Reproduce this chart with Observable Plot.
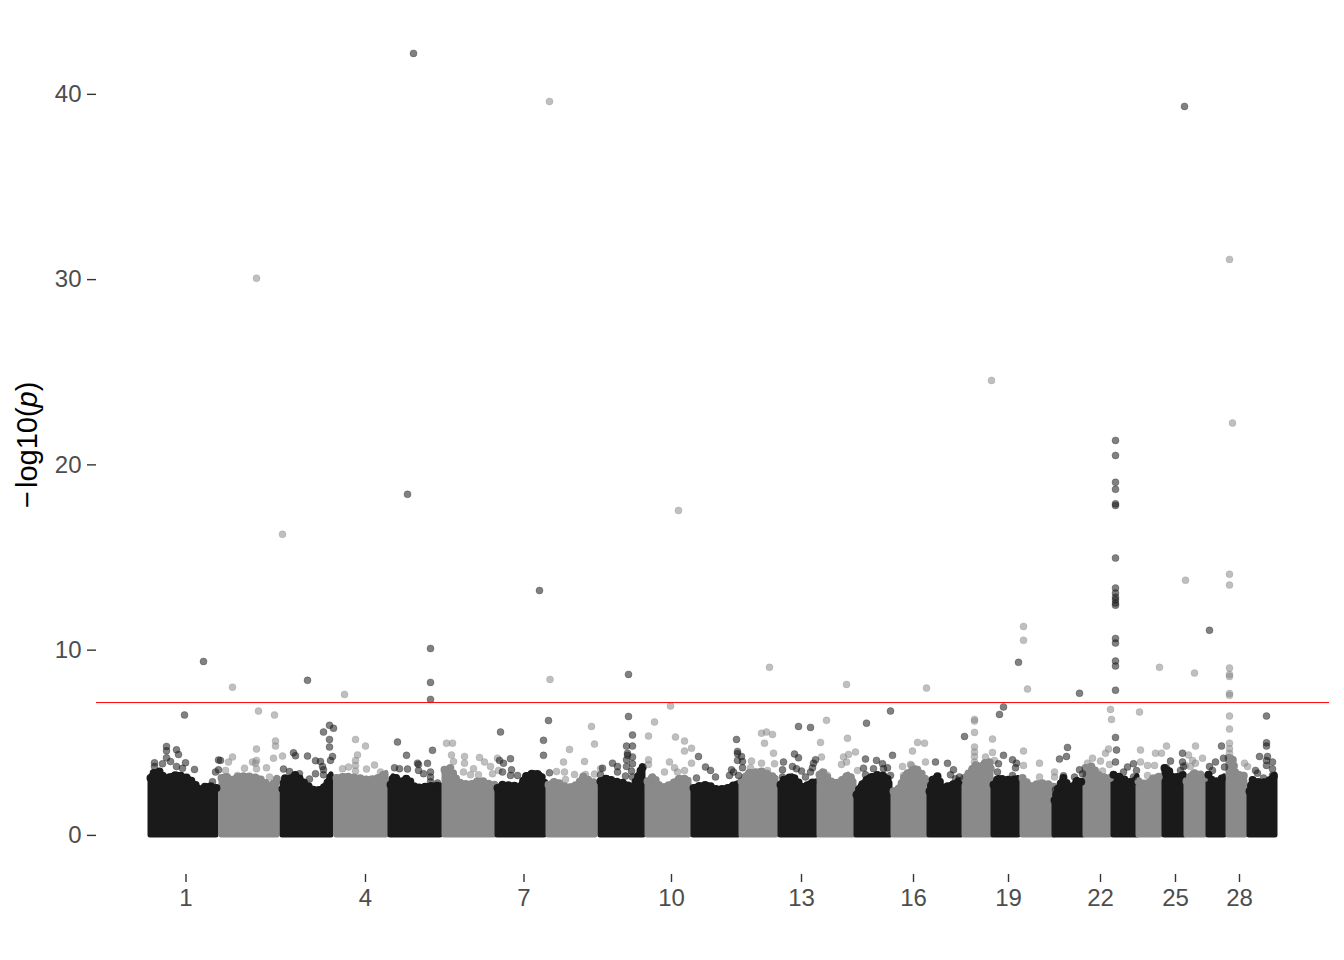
<!DOCTYPE html>
<html>
<head>
<meta charset="utf-8">
<script src="https://cdn.jsdelivr.net/npm/d3@7"></script>
<script src="https://cdn.jsdelivr.net/npm/@observablehq/plot@0.6"></script>
<style>
html,body{margin:0;padding:0;background:#fff}
svg{display:block}
</style>
</head>
<body>
<div id="chart"></div>
<script>
// Tick labels and their genome positions (arbitrary position units)
const tickPositions = [185.5, 365, 523.5, 671, 801, 913, 1008, 1100, 1175, 1239];
const tickLabels = ["1", "4", "7", "10", "13", "16", "19", "22", "25", "28"];
const yTicks = [0, 10, 20, 30, 40];
const threshold = 7.17;

// Upper outline of the dense mass of points, per chromosome: [position, -log10(p)]
const denseProfiles = [
  [[150,3.1],[153,3.37],[160,3.46],[165,2.92],[170,3.19],[177,3.28],[182,3.19],[188,3.1],[193,2.83],[200,2.47],[205,2.65],[212,2.65],[216,2.56]],
  [[221,3.1],[225,3.19],[232,3.0],[238,3.19],[248,3.19],[258,3.1],[265,2.83],[270,2.56],[277,3.1]],
  [[282,2.5],[284,3.1],[288,3.0],[295,3.28],[302,2.92],[308,2.65],[315,2.38],[323,2.56],[328,2.92],[331,3.3]],
  [[336,3.1],[345,3.19],[358,3.1],[368,3.0],[378,3.1],[386,3.37]],
  [[390,2.74],[393,3.19],[401,2.9],[407,3.1],[415,2.56],[428,2.65],[440,2.7]],
  [[444,3.55],[450,3.64],[455,3.1],[460,2.83],[470,2.74],[477,2.92],[483,2.92],[490,2.74],[494,2.74]],
  [[497,2.56],[502,2.74],[520,2.65],[525,3.19],[533,3.37],[540,3.28],[544,2.83]],
  [[548,2.74],[555,2.92],[567,2.56],[577,2.74],[583,3.19],[590,2.92],[595,2.83]],
  [[600,2.92],[607,3.1],[613,2.92],[623,2.83],[632,2.56],[637,3.1],[642,3.73],[643,3.46]],
  [[647,2.92],[653,3.19],[660,2.56],[670,2.74],[680,3.1],[689,3.0]],
  [[693,2.56],[697,2.65],[707,2.74],[717,2.47],[727,2.56],[738,2.83]],
  [[741,2.92],[748,3.37],[762,3.46],[768,3.28],[776,3.1]],
  [[780,2.74],[783,3.0],[792,3.19],[797,2.92],[803,2.56],[810,2.83],[816,2.92]],
  [[819,3.28],[822,3.46],[830,2.92],[838,2.83],[848,3.28],[854,2.92]],
  [[856,2.2],[860,2.65],[868,3.1],[878,3.28],[885,3.19],[890,2.83]],
  [[893,2.38],[899,2.56],[905,3.28],[915,3.64],[922,3.28],[927,2.83]],
  [[929,2.38],[932,3.0],[937,3.19],[942,2.56],[952,2.74],[961,3.0]],
  [[964,3.1],[970,3.46],[975,3.82],[978,3.64],[984,3.9],[989,4.0],[991,3.37]],
  [[993,2.74],[998,3.1],[1005,3.0],[1012,3.0],[1018,3.1]],
  [[1022,3.1],[1030,2.65],[1040,2.83],[1050,2.74],[1054,2.6]],
  [[1054,1.9],[1057,2.47],[1063,3.1],[1070,2.47],[1077,3.0],[1083,2.83]],
  [[1085,3.64],[1092,3.73],[1097,3.28],[1105,3.1],[1110,3.1]],
  [[1113,3.28],[1118,3.19],[1127,2.92],[1133,2.83],[1137,3.2]],
  [[1138,2.92],[1147,2.74],[1153,3.1],[1160,3.19]],
  [[1164,3.64],[1168,3.55],[1172,3.1],[1180,3.19],[1184,3.3]],
  [[1186,2.92],[1193,3.37],[1201,3.28],[1205,3.1]],
  [[1208,3.28],[1212,2.92],[1218,2.92],[1224,3.19]],
  [[1228,4.18],[1232,4.18],[1235,3.28],[1243,3.28],[1245,2.92]],
  [[1249,2.38],[1252,3.0],[1260,2.83],[1268,2.92],[1275,3.28]]
];

// Individually visible points on odd chromosomes
const oddHits = [
  [184,6.5],[166,4.8],[166,4.57],[166,4.19],[176,4.62],[178,4.37],[170,3.99],[162,3.87],[154,3.92],[154,3.72],[176,3.72],[185,3.92],[182,3.62],[194,3.56],[218,4.07],[220,4.05],[215,3.42],[212,2.9],[218,3.54],[203,9.39],
  [283,3.58],[289,3.45],[293,4.46],[295,4.3],[307,4.28],[299,3.33],[309,3.04],[315,4.03],[320,3.99],[322,3.72],[323,3.54],[315,3.33],[329,5.94],[333,5.78],[323,5.58],[329,5.18],[329,4.77],[332,4.26],[330,4.05],[323,3.27],[307,8.37],
  [397,5.04],[406,4.32],[417,3.9],[418,3.83],[427,3.89],[432,4.59],[394,3.65],[399,3.6],[407,3.58],[418,3.51],[423,3.33],[430,3.42],[430,3.15],[430,2.9],[437,2.83],[430,7.34],[430,8.26],[430,10.09],[413,42.21],[407,18.41],
  [500,5.58],[510,4.14],[499,4.05],[503,3.9],[502,3.42],[511,3.54],[510,3.24],[517,3.24],[548,6.2],[543,5.13],[543,4.32],[549,3.38],[539,13.22],
  [628,6.42],[632,5.42],[626,4.82],[632,4.82],[627,4.44],[632,4.23],[626,4.08],[627,4.32],[632,3.87],[626,3.72],[631,3.47],[632,3.15],[625,3.2],[612,3.9],[617,3.72],[617,3.42],[602,3.63],[600,3.27],[628,8.69],
  [698,4.26],[705,3.69],[710,3.51],[696,3.1],[715,3.15],[736,5.18],[737,4.53],[737,4.41],[741,4.26],[737,4.05],[742,3.99],[742,3.65],[731,3.54],[729,3.24],[733,3.42],[738,3.24],
  [798,5.88],[810,5.83],[794,4.39],[798,4.19],[783,3.96],[782,3.54],[792,3.72],[796,3.6],[801,3.47],[805,3.15],[815,4.08],[813,3.9],[812,3.65],[810,3.42],[782,3.15],
  [866,6.06],[890,6.71],[892,4.32],[865,4.12],[876,4.05],[863,3.63],[865,3.27],[882,3.87],[873,3.6],[883,3.6],[887,3.65],[890,3.24],
  [935,3.96],[947,3.89],[953,3.54],[950,3.27],[955,3.06],[959,3.15],[937,3.15],[964,5.34],
  [1003,6.93],[999,6.53],[1003,4.32],[998,3.87],[997,3.42],[1012,4.08],[1016,3.9],[1012,3.24],[1015,3.65],[1018,9.34],
  [1079,7.67],[1067,4.75],[1059,4.12],[1066,4.26],[1063,3.22],[1055,2.47],[1079,3.54],[1074,3.15],[1082,3.33],
  [1115,21.32],[1115,20.51],[1115,19.06],[1115,18.68],[1115,17.9],[1115,17.81],[1115,14.97],[1115,13.35],[1115,13.08],[1115,12.86],[1115,12.72],[1115,12.54],[1115,12.42],[1115,10.63],[1115,10.38],[1115,9.41],[1115,9.14],[1115,7.84],[1115,5.29],[1116,4.61],[1115,3.96],[1123,3.42],[1127,3.69],[1133,3.87],[1136,3.5],[1133,3.15],
  [1182,4.44],[1170,4.01],[1166,3.65],[1182,3.96],[1183,3.72],[1180,3.51],[1165,3.33],[1184,39.35],
  [1221,4.82],[1215,3.96],[1223,4.17],[1224,3.69],[1209,3.72],[1212,3.51],[1208,3.27],[1209,11.07],
  [1266,6.44],[1266,5.0],[1266,4.82],[1259,4.26],[1267,4.26],[1266,4.05],[1272,3.96],[1266,3.78],[1272,3.58],[1255,3.51],[1257,3.36],[1272,3.24],[1263,3.1]
];

// Individually visible points on even chromosomes
const evenHits = [
  [232,8.0],[258,6.71],[274,6.5],[275,5.09],[275,4.82],[256,4.66],[232,4.23],[273,4.17],[282,4.28],[256,4.05],[255,3.9],[252,3.96],[244,3.63],[266,3.65],[225,3.51],[228,3.96],[256,3.6],[237,3.24],[269,3.15],[256,30.07],[282,16.25],
  [344,7.61],[355,5.18],[365,4.82],[357,4.34],[355,4.05],[374,3.8],[366,3.58],[355,3.78],[348,3.69],[342,3.6],[355,3.47],[380,3.42],
  [446,4.98],[452,4.98],[451,4.34],[453,3.99],[464,4.26],[464,3.9],[479,4.21],[484,3.96],[490,3.72],[497,4.17],[473,3.6],[463,3.42],[478,3.27],[492,3.33],[470,3.27],[498,3.5],
  [591,5.88],[594,4.93],[569,4.64],[563,3.96],[584,3.99],[564,3.42],[556,3.45],[565,3.02],[574,3.29],[585,3.29],[594,3.31],[600,3.6],[549,39.62],[549.5,8.42],
  [670,6.98],[654,6.12],[648,5.36],[675,5.31],[684,5.09],[691,4.7],[684,4.55],[648,4.08],[648,3.83],[669,3.96],[691,3.9],[674,3.65],[684,3.5],[664,3.42],[677,3.42],[678,17.54],
  [761,5.52],[766,5.58],[772,5.45],[764,4.98],[773,4.44],[751,4.01],[761,3.9],[774,3.87],[767,3.5],[750,3.65],[769,9.07],
  [846,8.15],[826,6.21],[820,5.02],[847,5.24],[855,4.5],[848,4.37],[843,4.23],[846,3.96],[841,3.83],[821,4.23],[827,3.24],[857,3.5],
  [917,5.02],[912,4.55],[911,3.78],[902,3.72],[911,3.47],[903,3.24],[926,7.95],[924,4.98],[925,3.96],[910,3.83],
  [974,6.26],[974,6.17],[974,5.56],[974,4.77],[974,4.5],[974,4.26],[974,3.96],[992,5.2],[992,4.48],[985,4.23],[985,3.87],[994,4.05],[991,24.56],
  [1027,7.9],[1023,4.55],[1039,3.9],[1023,3.78],[1054,3.42],[1054,3.15],[1039,3.15],[1023,11.28],[1023,10.53],
  [1110,6.8],[1111,6.26],[1108,4.66],[1105,4.44],[1092,4.17],[1100,4.01],[1109,3.83],[1087,3.9],[1102,3.47],
  [1139,6.66],[1140,4.61],[1140,3.96],[1147,3.78],[1154,3.78],[1155,4.44],[1161,4.44],[1166,4.82],[1147,3.24],[1159,9.07],
  [1195,4.82],[1188,4.34],[1202,4.17],[1192,4.05],[1195,3.9],[1190,3.72],[1192,3.29],[1185,3.78],[1185,13.77],[1194,8.76],
  [1229,14.1],[1229,13.51],[1229,9.03],[1229,8.69],[1229,8.58],[1229,7.66],[1229,7.56],[1229,6.44],[1229,5.74],[1229,4.98],[1229,4.68],[1229,4.44],[1229,4.19],[1244,3.9],[1247,3.72],[1229,31.09],[1232,22.26]
];

const darkColor = "#1a1a1a";
const greyColor = "#8a8a8a";

const denseTable = denseProfiles.flatMap((profile, i) =>
  profile.map(([pos, top]) => ({chr: i + 1, pos, top, color: i % 2 === 0 ? darkColor : greyColor}))
);
const toRow = ([pos, p]) => ({pos, p});

const dotStyle = {x: "pos", y: "p", r: 3.5, fillOpacity: 0.55, strokeOpacity: 0.35, strokeWidth: 0.8};

const chart = Plot.plot({
  width: 1344,
  height: 960,
  marginLeft: 96,
  marginRight: 15,
  marginTop: 14,
  marginBottom: 86,
  x: {domain: [96, 1329], axis: null},
  y: {domain: [-2.11, 44.31], axis: null},
  style: {fontFamily: "Liberation Sans, Arial, sans-serif", fontSize: "24px", background: "#fff"},
  marks: [
    Plot.axisX({
      anchor: "bottom", ticks: tickPositions, label: null, fontSize: 24,
      tickFormat: d => tickLabels[tickPositions.indexOf(d)],
      tickSize: 8, tickPadding: 6, stroke: "#333333", fill: "#4d4d4d", strokeWidth: 1.4
    }),
    Plot.axisY({
      anchor: "left", ticks: yTicks, label: null, fontSize: 24,
      tickSize: 9, tickPadding: 6, stroke: "#333333", fill: "#4d4d4d", strokeWidth: 1.4
    }),
    Plot.areaY(denseTable, {
      x: "pos", y1: 0, y2: "top", z: "chr", fill: "color", stroke: "color",
      strokeWidth: 5, strokeLinejoin: "round"
    }),
    // Scalloped upper edge: the outline is made of overlapping round points
    Plot.lineY(denseTable, {
      x: "pos", y: "top", z: "chr", stroke: "color",
      strokeWidth: 8, strokeLinecap: "round", strokeDasharray: "0 6"
    }),
    Plot.dot(evenHits.map(toRow), {...dotStyle, fill: greyColor, stroke: greyColor}),
    Plot.dot(oddHits.map(toRow), {...dotStyle, fill: darkColor, stroke: darkColor}),
    Plot.ruleY([threshold], {stroke: "#ff0000", strokeWidth: 1})
  ]
});

const yLabel = d3.select(chart).append("text")
  .attr("transform", "translate(37,508) rotate(-90)")
  .attr("text-anchor", "start")
  .attr("fill", "#000")
  .style("font-family", "Liberation Sans, Arial, sans-serif")
  .style("font-size", "29px");
yLabel.append("tspan").text("−");
yLabel.append("tspan").attr("dx", 3).text("log10(");
yLabel.append("tspan").attr("font-style", "italic").text("p");
yLabel.append("tspan").text(")");

document.getElementById("chart").appendChild(chart);
</script>
</body>
</html>
